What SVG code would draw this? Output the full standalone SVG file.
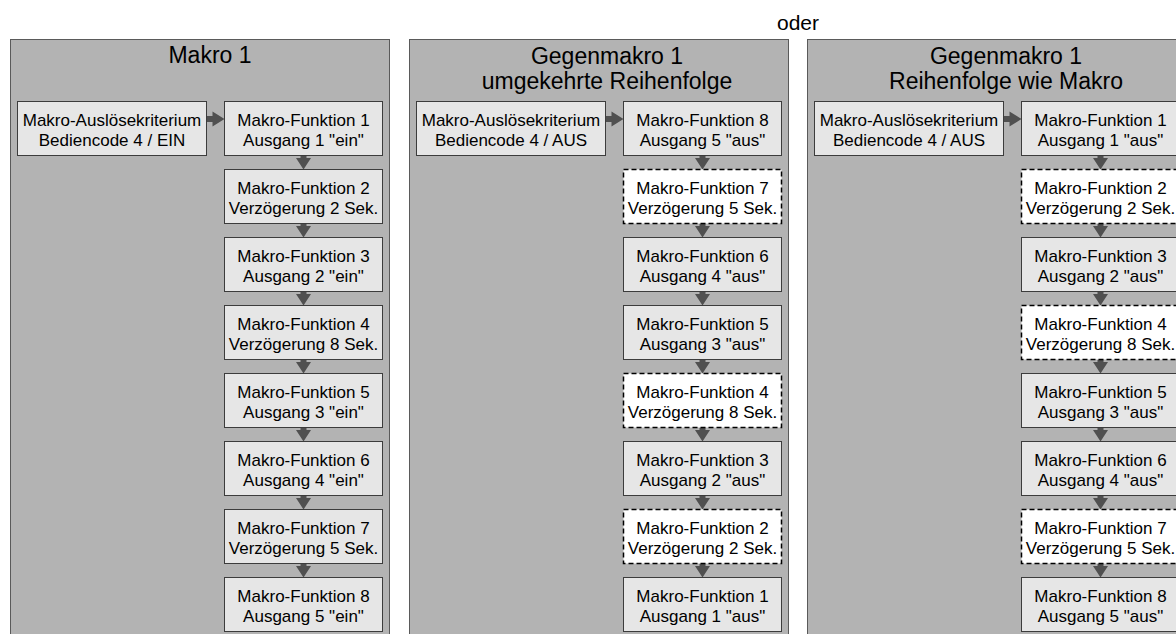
<svg xmlns="http://www.w3.org/2000/svg" width="1176" height="634" viewBox="0 0 1176 634">
<style>
.bg{fill:#ffffff}
.panel{fill:#b3b3b3;stroke:#5a5a5a;stroke-width:1}
.box{fill:#e6e6e6;stroke:#3c3c3c;stroke-width:1}
.dbox{fill:#ffffff;stroke:#000000;stroke-width:1.5;stroke-dasharray:5 3}
.arr{fill:#505050}
text{font-family:"Liberation Sans",Arial,Helvetica,sans-serif;fill:#000000}
.t{font-size:17px;text-anchor:middle}
.title{font-size:23px;text-anchor:middle}
.oder{font-size:21px;text-anchor:middle}
</style>
<defs>
<path id="av" d="M-3 0 h6 v2.5 h4.5 L0 14 L-7.5 2.5 h4.5 z"/>
<path id="ah" d="M0 -3 h6 v-4.5 L18 0 L6 7.5 v-4.5 h-6 z"/>
</defs>
<rect class="bg" x="0" y="0" width="1176" height="634"/>
<text class="oder" x="798" y="30">oder</text>

<g id="panel1">
<rect class="panel" x="10.5" y="39.5" width="379" height="620"/>
<text class="title" x="210" y="63">Makro 1</text>
</g>
<g id="panel2">
<rect class="panel" x="409.5" y="39.5" width="379" height="620"/>
<text class="title" x="607" y="64">Gegenmakro 1</text>
<text class="title" x="607" y="89">umgekehrte Reihenfolge</text>
</g>
<g id="panel3">
<rect class="panel" x="807.5" y="39.5" width="379" height="620"/>
<text class="title" x="1006" y="64">Gegenmakro 1</text>
<text class="title" x="1006" y="89">Reihenfolge wie Makro</text>
</g>

<g id="connectors" class="arr">
<use href="#ah" x="206.5" y="119"/>
<use href="#av" x="303.5" y="155.5"/>
<use href="#av" x="303.5" y="223.5"/>
<use href="#av" x="303.5" y="291.5"/>
<use href="#av" x="303.5" y="359.5"/>
<use href="#av" x="303.5" y="427.5"/>
<use href="#av" x="303.5" y="495.5"/>
<use href="#av" x="303.5" y="563.5"/>
<use href="#ah" x="605.5" y="119"/>
<use href="#av" x="702.5" y="155.5"/>
<use href="#av" x="702.5" y="223.5"/>
<use href="#av" x="702.5" y="291.5"/>
<use href="#av" x="702.5" y="359.5"/>
<use href="#av" x="702.5" y="427.5"/>
<use href="#av" x="702.5" y="495.5"/>
<use href="#av" x="702.5" y="563.5"/>
<use href="#ah" x="1003.5" y="119"/>
<use href="#av" x="1100.5" y="155.5"/>
<use href="#av" x="1100.5" y="223.5"/>
<use href="#av" x="1100.5" y="291.5"/>
<use href="#av" x="1100.5" y="359.5"/>
<use href="#av" x="1100.5" y="427.5"/>
<use href="#av" x="1100.5" y="495.5"/>
<use href="#av" x="1100.5" y="563.5"/>
</g>

<!-- Panel 1 -->
<g id="p1-trigger"><rect class="box" x="17.5" y="101.5" width="189" height="54"/><text class="t" x="112" y="126">Makro-Auslösekriterium</text><text class="t" x="112" y="146">Bediencode 4 / EIN</text></g>
<g id="p1-f1"><rect class="box" x="224.5" y="101.5" width="158" height="54"/><text class="t" x="303.5" y="126">Makro-Funktion 1</text><text class="t" x="303.5" y="146">Ausgang 1 "ein"</text></g>
<g id="p1-f2"><rect class="box" x="224.5" y="169.5" width="158" height="54"/><text class="t" x="303.5" y="194">Makro-Funktion 2</text><text class="t" x="303.5" y="214">Verzögerung 2 Sek.</text></g>
<g id="p1-f3"><rect class="box" x="224.5" y="237.5" width="158" height="54"/><text class="t" x="303.5" y="262">Makro-Funktion 3</text><text class="t" x="303.5" y="282">Ausgang 2 "ein"</text></g>
<g id="p1-f4"><rect class="box" x="224.5" y="305.5" width="158" height="54"/><text class="t" x="303.5" y="330">Makro-Funktion 4</text><text class="t" x="303.5" y="350">Verzögerung 8 Sek.</text></g>
<g id="p1-f5"><rect class="box" x="224.5" y="373.5" width="158" height="54"/><text class="t" x="303.5" y="398">Makro-Funktion 5</text><text class="t" x="303.5" y="418">Ausgang 3 "ein"</text></g>
<g id="p1-f6"><rect class="box" x="224.5" y="441.5" width="158" height="54"/><text class="t" x="303.5" y="466">Makro-Funktion 6</text><text class="t" x="303.5" y="486">Ausgang 4 "ein"</text></g>
<g id="p1-f7"><rect class="box" x="224.5" y="509.5" width="158" height="54"/><text class="t" x="303.5" y="534">Makro-Funktion 7</text><text class="t" x="303.5" y="554">Verzögerung 5 Sek.</text></g>
<g id="p1-f8"><rect class="box" x="224.5" y="577.5" width="158" height="54"/><text class="t" x="303.5" y="602">Makro-Funktion 8</text><text class="t" x="303.5" y="622">Ausgang 5 "ein"</text></g>

<!-- Panel 2 -->
<g id="p2-trigger"><rect class="box" x="416.5" y="101.5" width="189" height="54"/><text class="t" x="511" y="126">Makro-Auslösekriterium</text><text class="t" x="511" y="146">Bediencode 4 / AUS</text></g>
<g id="p2-f8"><rect class="box" x="623.5" y="101.5" width="158" height="54"/><text class="t" x="702.5" y="126">Makro-Funktion 8</text><text class="t" x="702.5" y="146">Ausgang 5 "aus"</text></g>
<g id="p2-f7"><rect class="dbox" x="623.5" y="169.5" width="158" height="54"/><text class="t" x="702.5" y="194">Makro-Funktion 7</text><text class="t" x="702.5" y="214">Verzögerung 5 Sek.</text></g>
<g id="p2-f6"><rect class="box" x="623.5" y="237.5" width="158" height="54"/><text class="t" x="702.5" y="262">Makro-Funktion 6</text><text class="t" x="702.5" y="282">Ausgang 4 "aus"</text></g>
<g id="p2-f5"><rect class="box" x="623.5" y="305.5" width="158" height="54"/><text class="t" x="702.5" y="330">Makro-Funktion 5</text><text class="t" x="702.5" y="350">Ausgang 3 "aus"</text></g>
<g id="p2-f4"><rect class="dbox" x="623.5" y="373.5" width="158" height="54"/><text class="t" x="702.5" y="398">Makro-Funktion 4</text><text class="t" x="702.5" y="418">Verzögerung 8 Sek.</text></g>
<g id="p2-f3"><rect class="box" x="623.5" y="441.5" width="158" height="54"/><text class="t" x="702.5" y="466">Makro-Funktion 3</text><text class="t" x="702.5" y="486">Ausgang 2 "aus"</text></g>
<g id="p2-f2"><rect class="dbox" x="623.5" y="509.5" width="158" height="54"/><text class="t" x="702.5" y="534">Makro-Funktion 2</text><text class="t" x="702.5" y="554">Verzögerung 2 Sek.</text></g>
<g id="p2-f1"><rect class="box" x="623.5" y="577.5" width="158" height="54"/><text class="t" x="702.5" y="602">Makro-Funktion 1</text><text class="t" x="702.5" y="622">Ausgang 1 "aus"</text></g>

<!-- Panel 3 -->
<g id="p3-trigger"><rect class="box" x="814.5" y="101.5" width="189" height="54"/><text class="t" x="909" y="126">Makro-Auslösekriterium</text><text class="t" x="909" y="146">Bediencode 4 / AUS</text></g>
<g id="p3-f1"><rect class="box" x="1021.5" y="101.5" width="158" height="54"/><text class="t" x="1100.5" y="126">Makro-Funktion 1</text><text class="t" x="1100.5" y="146">Ausgang 1 "aus"</text></g>
<g id="p3-f2"><rect class="dbox" x="1021.5" y="169.5" width="158" height="54"/><text class="t" x="1100.5" y="194">Makro-Funktion 2</text><text class="t" x="1100.5" y="214">Verzögerung 2 Sek.</text></g>
<g id="p3-f3"><rect class="box" x="1021.5" y="237.5" width="158" height="54"/><text class="t" x="1100.5" y="262">Makro-Funktion 3</text><text class="t" x="1100.5" y="282">Ausgang 2 "aus"</text></g>
<g id="p3-f4"><rect class="dbox" x="1021.5" y="305.5" width="158" height="54"/><text class="t" x="1100.5" y="330">Makro-Funktion 4</text><text class="t" x="1100.5" y="350">Verzögerung 8 Sek.</text></g>
<g id="p3-f5"><rect class="box" x="1021.5" y="373.5" width="158" height="54"/><text class="t" x="1100.5" y="398">Makro-Funktion 5</text><text class="t" x="1100.5" y="418">Ausgang 3 "aus"</text></g>
<g id="p3-f6"><rect class="box" x="1021.5" y="441.5" width="158" height="54"/><text class="t" x="1100.5" y="466">Makro-Funktion 6</text><text class="t" x="1100.5" y="486">Ausgang 4 "aus"</text></g>
<g id="p3-f7"><rect class="dbox" x="1021.5" y="509.5" width="158" height="54"/><text class="t" x="1100.5" y="534">Makro-Funktion 7</text><text class="t" x="1100.5" y="554">Verzögerung 5 Sek.</text></g>
<g id="p3-f8"><rect class="box" x="1021.5" y="577.5" width="158" height="54"/><text class="t" x="1100.5" y="602">Makro-Funktion 8</text><text class="t" x="1100.5" y="622">Ausgang 5 "aus"</text></g>
</svg>
